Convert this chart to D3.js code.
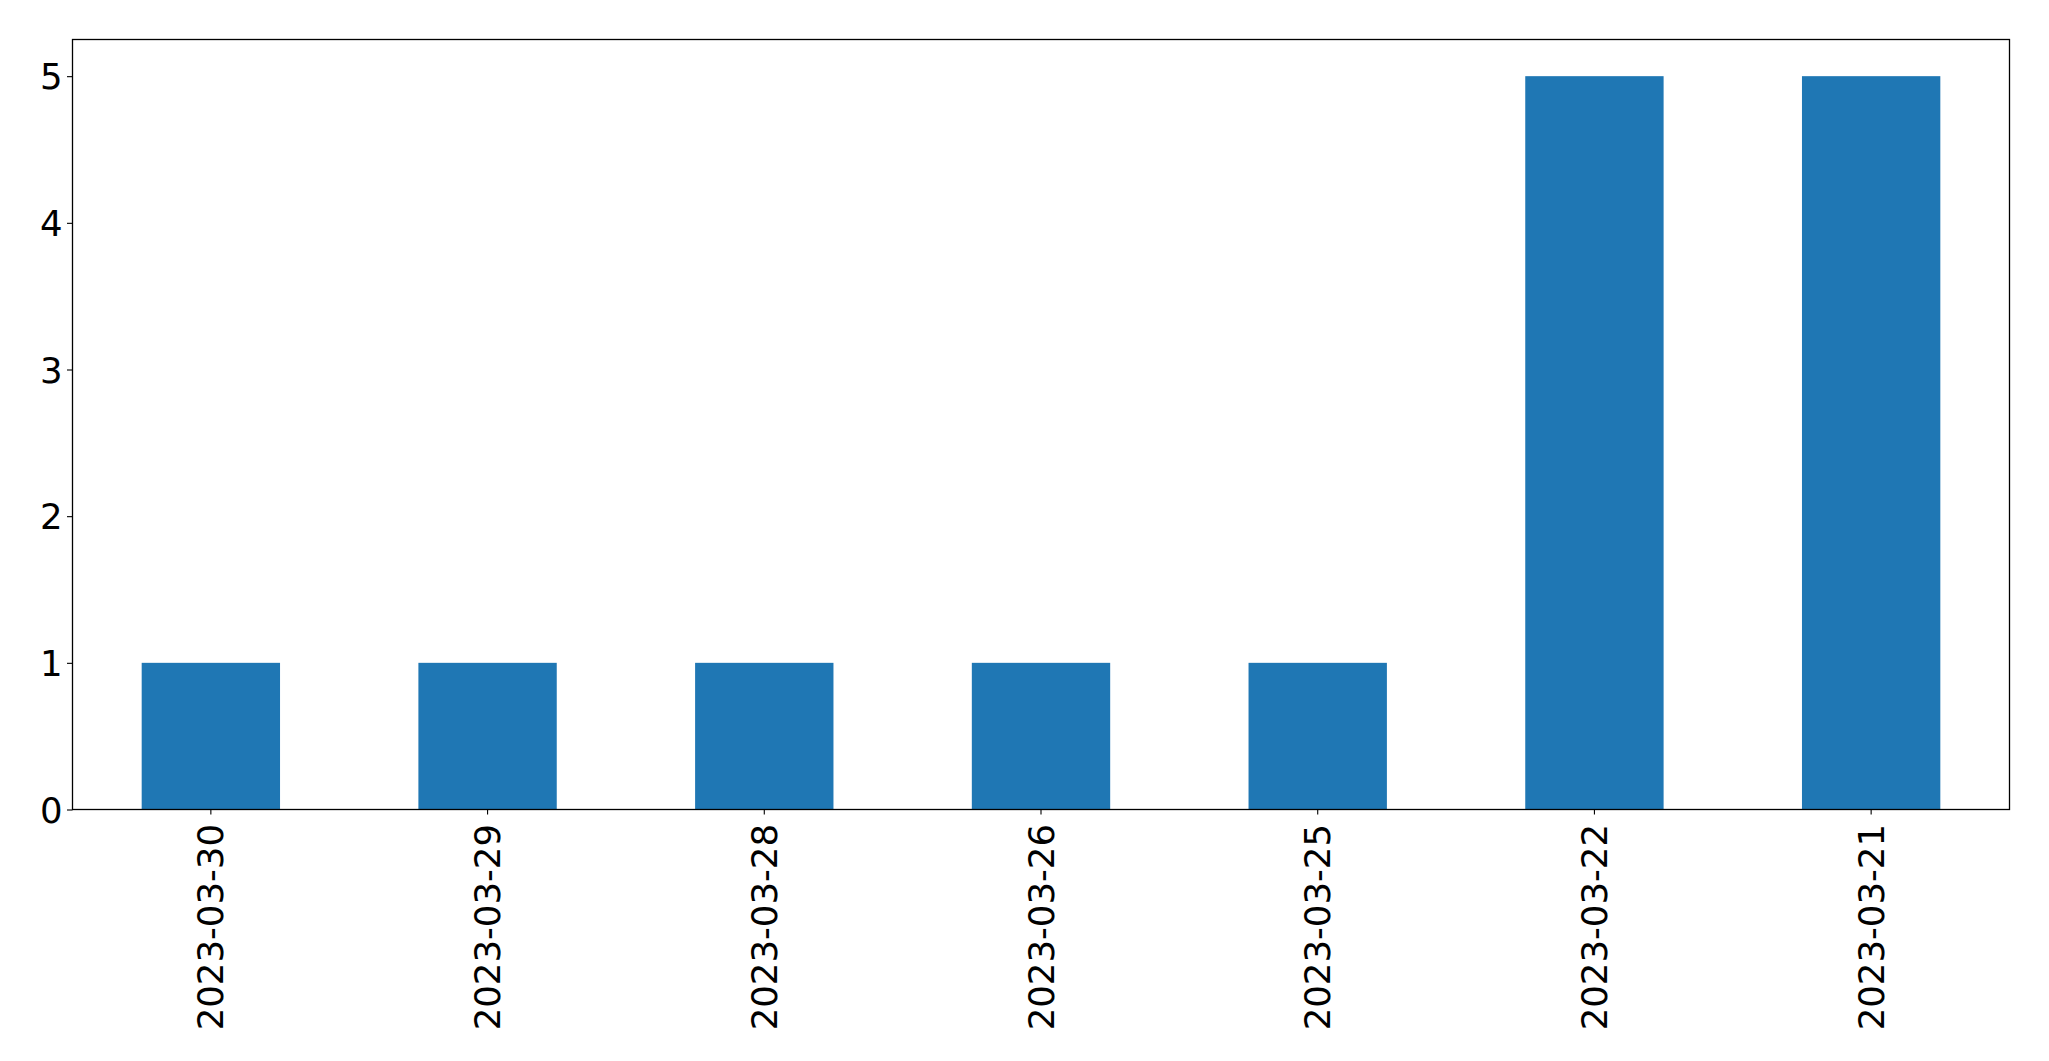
<!DOCTYPE html>
<html>
<head>
<meta charset="utf-8">
<script src="https://cdn.jsdelivr.net/npm/d3@7"></script>
<style>
  html, body { margin: 0; padding: 0; background: #fff; }
  svg { display: block; }
</style>
</head>
<body>
<svg id="chart" width="2049" height="1061"></svg>
<script>
const categories = ["2023-03-30", "2023-03-29", "2023-03-28", "2023-03-26", "2023-03-25", "2023-03-22", "2023-03-21"];
const values = [1, 1, 1, 1, 1, 5, 5];
const yTicks = [0, 1, 2, 3, 4, 5];

const W = 2049, H = 1061;
const margin = { left: 72.5, right: W - 2009.5, top: 39.5, bottom: H - 809.5 };
const svg = d3.select("#chart");
const font = "DejaVu Sans, sans-serif";
const fontSize = 35.5;

const x = d3.scaleBand()
  .domain(categories)
  .range([margin.left, W - margin.right])
  .paddingInner(0.5)
  .paddingOuter(0.25);

const yMax = d3.max(values) * 1.05;
const y = d3.scaleLinear()
  .domain([0, yMax])
  .range([H - margin.bottom, margin.top]);

svg.append("g")
  .selectAll("rect")
  .data(values)
  .join("rect")
  .attr("x", (d, i) => x(categories[i]))
  .attr("width", x.bandwidth())
  .attr("y", d => y(d))
  .attr("height", d => y(0) - y(d))
  .attr("fill", "#1f77b4");

// Axes
const yAxis = d3.axisLeft(y).tickValues(yTicks).tickFormat(d3.format("d")).tickSize(5.5).tickPadding(4.5);
const gy = svg.append("g").attr("transform", `translate(${margin.left},0)`).call(yAxis);
gy.select(".domain").remove();
gy.selectAll("text").attr("font-family", font).attr("font-size", fontSize).attr("fill", "#000").attr("dy", "0.36em");
gy.selectAll("line").attr("stroke", "#000").attr("stroke-width", 1.1);

const xAxis = d3.axisBottom(x).tickSize(5).tickPadding(0);
const gx = svg.append("g").attr("transform", `translate(0,${H - margin.bottom})`).call(xAxis);
gx.select(".domain").remove();
gx.selectAll("line").attr("stroke", "#000").attr("stroke-width", 1.1);
gx.selectAll("text")
  .attr("font-family", font)
  .attr("font-size", fontSize)
  .attr("fill", "#000")
  .attr("text-anchor", "end")
  .attr("dominant-baseline", "central")
  .attr("dy", null)
  .attr("y", 0)
  .attr("x", 0)
  .attr("transform", "translate(0,14.5) rotate(-90)");

// Frame
svg.append("rect")
  .attr("x", margin.left)
  .attr("y", margin.top)
  .attr("width", W - margin.right - margin.left)
  .attr("height", H - margin.bottom - margin.top)
  .attr("fill", "none")
  .attr("stroke", "#000")
  .attr("stroke-width", 1.3);
</script>
</body>
</html>
